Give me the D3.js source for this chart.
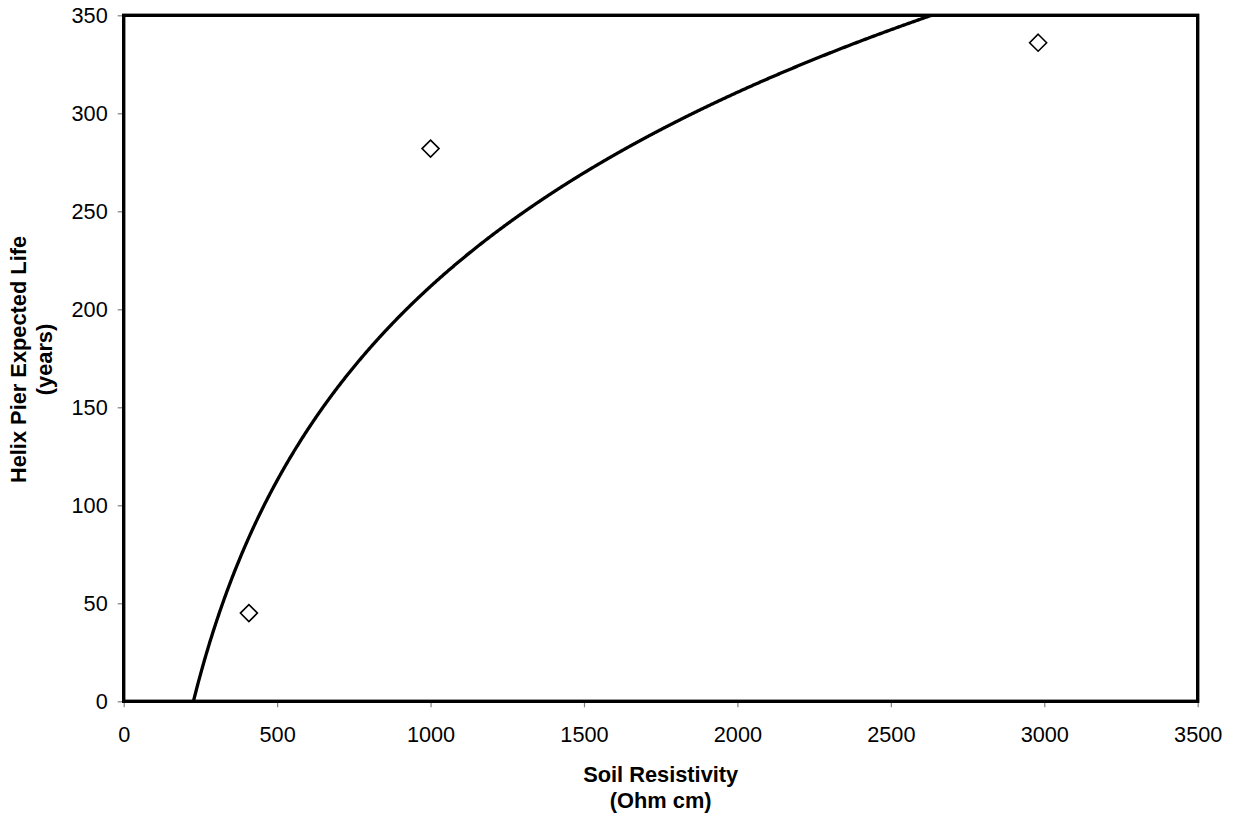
<!DOCTYPE html>
<html><head><meta charset="utf-8">
<script src="https://cdn.jsdelivr.net/npm/d3@7"></script>
<style>
body{margin:0;background:#fff;}
text{font-family:"Liberation Sans",Arial,sans-serif;}
</style></head>
<body><svg id="c" width="1233" height="816"></svg>
<script>
const resistivity = [408, 1000, 2980];
const expectedLife = [45, 282, 336];
const xTicks = [0, 500, 1000, 1500, 2000, 2500, 3000, 3500];
const yTicks = [0, 50, 100, 150, 200, 250, 300, 350];
const xTitle = ["Soil Resistivity", "(Ohm cm)"];
const yTitle = ["Helix Pier Expected Life", "(years)"];

const svg = d3.select("#c");
const L = 123.7, R = 1197.7, T = 15.3, B = 701.3;
const x = d3.scaleLinear().domain([0, 3500]).range([L, R]);
const y = d3.scaleLinear().domain([0, 350]).range([B, T]);
const FS = 21.7, TFS = 21.8;

// logarithmic trendline (least squares on ln x)
const lx = resistivity.map(Math.log);
const mx = d3.mean(lx), my = d3.mean(expectedLife);
const sxy = d3.sum(lx.map((v,i)=>(v-mx)*(expectedLife[i]-my)));
const sxx = d3.sum(lx.map(v=>(v-mx)*(v-mx)));
const a = sxy/sxx, b = my - a*mx;

svg.append("defs").append("clipPath").attr("id","clip")
  .append("rect").attr("x",L).attr("y",T).attr("width",R-L).attr("height",B-T);

// axes
const xAxis = d3.axisBottom(x).tickValues(xTicks).tickFormat(d3.format("d")).tickSize(6).tickSizeOuter(0).tickPadding(19);
const gx = svg.append("g").attr("transform",`translate(0,${B})`).call(xAxis);
const yAxis = d3.axisLeft(y).tickValues(yTicks).tickFormat(d3.format("d")).tickSize(6).tickSizeOuter(0).tickPadding(10);
const gy = svg.append("g").attr("transform",`translate(${L},0)`).call(yAxis);
[gx,gy].forEach(g=>{
  g.attr("font-size",FS).attr("font-family","Liberation Sans, Arial, sans-serif");
  g.select(".domain").remove();
  g.selectAll(".tick line").attr("stroke","#808080").attr("stroke-width",1.2);
  g.selectAll(".tick text").attr("fill","#000");
});
gy.selectAll(".tick text").attr("dy","0.35em");

// trendline
const xs = d3.range(200, 3500, 2);
const line = d3.line().x(d=>x(d)).y(d=>y(a*Math.log(d)+b));
svg.append("path").datum(xs.filter(v=>a*Math.log(v)+b > -5))
  .attr("clip-path","url(#clip)")
  .attr("d",line).attr("fill","none").attr("stroke","#000").attr("stroke-width",3.3);

// frame
svg.append("rect").attr("x",L).attr("y",T).attr("width",R-L).attr("height",B-T)
  .attr("fill","none").attr("stroke","#000").attr("stroke-width",3.4);

// points
const s = 8.5;
svg.append("g").selectAll("path").data(resistivity).join("path")
  .attr("d",(d,i)=>{const cx=x(d), cy=y(expectedLife[i]);
    return `M${cx},${cy-s}L${cx+s},${cy}L${cx},${cy+s}L${cx-s},${cy}Z`;})
  .attr("fill","#fff").attr("stroke","#000").attr("stroke-width",1.6);

// titles
const cxm = (L+R)/2;
svg.append("text").attr("x",cxm).attr("y",782).attr("text-anchor","middle")
  .attr("font-size",TFS).attr("font-weight","bold").text(xTitle[0]);
svg.append("text").attr("x",cxm).attr("y",808).attr("text-anchor","middle")
  .attr("font-size",TFS).attr("font-weight","bold").text(xTitle[1]);
const cym = 359.5;
svg.append("text").attr("transform",`translate(25.5,${cym}) rotate(-90)`).attr("text-anchor","middle")
  .attr("font-size",TFS).attr("font-weight","bold").text(yTitle[0]);
svg.append("text").attr("transform",`translate(51.5,${cym}) rotate(-90)`).attr("text-anchor","middle")
  .attr("font-size",TFS).attr("font-weight","bold").text(yTitle[1]);
</script></body></html>
